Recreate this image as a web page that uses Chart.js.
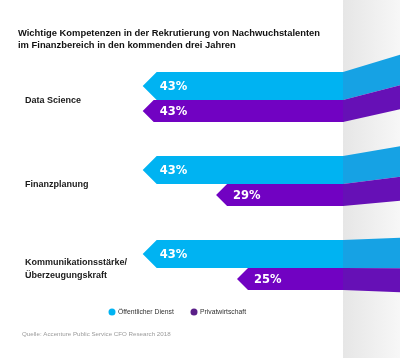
<!DOCTYPE html>
<html>
<head>
<meta charset="utf-8">
<script src="https://cdn.jsdelivr.net/npm/chart.js@4/dist/chart.umd.min.js"></script>
<style>
    html, body { margin: 0; padding: 0; background: #ffffff; }
    canvas { display: block; }
</style>
</head>
<body>
<canvas id="barChart" width="400" height="358"></canvas>
<script>
(function () {
    "use strict";

    // data
    var categories = ["Data Science", "Finanzplanung", ["Kommunikationsstärke/", "Überzeugungskraft"]];
    var seriesNames = ["Öffentlicher Dienst", "Privatwirtschaft"];
    var publicValues = [43, 43, 43];
    var privateValues = [43, 29, 25];
    var titleLines = [
        "Wichtige Kompetenzen in der Rekrutierung von Nachwuchstalenten",
        "im Finanzbereich in den kommenden drei Jahren"
    ];
    var sourceText = "Quelle: Accenture Public Service CFO Research 2018";

    var colors = {
        cyan: "#00b3f2",
        purple: "#7102c2",
        cyanPanel: "#16a2e4",
        purplePanel: "#6610b6",
        legendPurple: "#5a1f88",
        text: "#1a1a1a"
    };

    var PANEL_X = 343;      // where the grey side panel starts
    var VANISH_Y = 265;     // bars bend towards this height in the panel
    var BEND = 0.09;

    function ArrowBars(chart) {
        var ctx = chart.ctx;
        var right = chart.width;

        // grey side panel
        var grad = ctx.createLinearGradient(PANEL_X, 0, right, 0);
        grad.addColorStop(0, "#e6e6e6");
        grad.addColorStop(1, "#f7f7f7");
        ctx.save();
        ctx.fillStyle = grad;
        ctx.fillRect(PANEL_X, 0, right - PANEL_X, chart.height);

        chart.data.datasets.forEach(function (ds, di) {
            var meta = chart.getDatasetMeta(di);
            meta.data.forEach(function (el, i) {
                var h = el.height;
                var top = el.y - h / 2;
                var bot = el.y + h / 2;
                var tip = el.x;
                var d = h / 2;

                ctx.fillStyle = ds.backgroundColor;
                ctx.beginPath();
                ctx.moveTo(tip, el.y);
                ctx.lineTo(tip + d, top);
                ctx.lineTo(PANEL_X + 0.5, top);
                ctx.lineTo(PANEL_X + 0.5, bot);
                ctx.lineTo(tip + d, bot);
                ctx.closePath();
                ctx.fill();

                ctx.fillStyle = ds.panelColor;
                ctx.beginPath();
                ctx.moveTo(PANEL_X, top);
                ctx.lineTo(right, top + BEND * (top - VANISH_Y));
                ctx.lineTo(right, bot + BEND * (bot - VANISH_Y));
                ctx.lineTo(PANEL_X, bot);
                ctx.closePath();
                ctx.fill();

                // value label
                ctx.fillStyle = "#ffffff";
                ctx.font = "bold 11.5px 'DejaVu Sans'";
                ctx.textAlign = "left";
                ctx.textBaseline = "middle";
                ctx.fillText(ds.data[i] + "%", tip + 17, el.y + 1);
            });
        });
        ctx.restore();
    }

    var decorPlugin = {
        id: "decor",
        beforeDatasetDraw: function () {
            return false;
        },
        afterDatasetsDraw: function (chart) {
            ArrowBars(chart);
        },
        afterDraw: function (chart) {
            var ctx = chart.ctx;
            var yScale = chart.scales.y;
            ctx.save();
            ctx.textAlign = "left";
            ctx.textBaseline = "middle";

            // title
            ctx.fillStyle = "#111111";
            ctx.font = "bold 9.4px 'Liberation Sans'";
            titleLines.forEach(function (line, i) {
                ctx.fillText(line, 18, 33 + i * 12.5);
            });

            // category labels
            ctx.fillStyle = colors.text;
            ctx.font = "bold 9px 'Liberation Sans'";
            categories.forEach(function (cat, i) {
                var lines = Array.isArray(cat) ? cat : [cat];
                var cy = yScale.getPixelForValue(i) + 1;
                lines.forEach(function (line, j) {
                    ctx.fillText(line, 25, cy + (j - (lines.length - 1) / 2) * 13);
                });
            });

            // legend
            var legendItems = [
                { x: 112, color: colors.cyan, label: seriesNames[0] },
                { x: 194, color: colors.legendPurple, label: seriesNames[1] }
            ];
            ctx.font = "6.8px 'Liberation Sans'";
            legendItems.forEach(function (item) {
                ctx.fillStyle = item.color;
                ctx.beginPath();
                ctx.arc(item.x, 312, 3.5, 0, Math.PI * 2);
                ctx.fill();
                ctx.fillStyle = "#333333";
                ctx.fillText(item.label, item.x + 6, 312);
            });

            // source
            ctx.fillStyle = "#9a9a9a";
            ctx.font = "6.2px 'Liberation Sans'";
            ctx.fillText(sourceText, 22, 334);
            ctx.restore();
        }
    };

    var ctx = document.getElementById("barChart");
    var myChart = new Chart(ctx, {
        type: "bar",
        data: {
            labels: categories,
            datasets: [{
                label: seriesNames[0],
                backgroundColor: colors.cyan,
                panelColor: colors.cyanPanel,
                barThickness: 28,
                data: publicValues
            }, {
                label: seriesNames[1],
                backgroundColor: colors.purple,
                panelColor: colors.purplePanel,
                barThickness: 22,
                data: privateValues
            }]
        },
        options: {
            indexAxis: "y",
            responsive: false,
            devicePixelRatio: 1,
            animation: false,
            layout: {
                padding: { left: 106, right: 32, top: 58, bottom: 48 }
            },
            scales: {
                x: {
                    type: "linear",
                    reverse: true,
                    min: 0,
                    max: 50,
                    display: false
                },
                y: {
                    display: false
                }
            },
            plugins: {
                legend: { display: false },
                title: { display: false },
                tooltip: { enabled: false }
            }
        },
        plugins: [decorPlugin]
    });
})();
</script>
</body>
</html>
